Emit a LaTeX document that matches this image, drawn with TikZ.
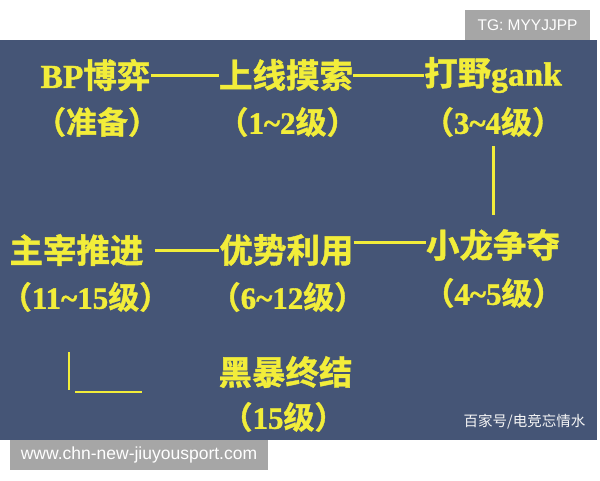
\documentclass[tikz,border=0pt]{standalone}
\usepackage{fontspec}
\newfontfamily\cjk{Noto Sans CJK SC}[BoldFont={* Bold}, BoldFeatures={FakeBold=1.2}]
\newfontfamily\lat{Liberation Serif}[BoldFeatures={FakeBold=1.2}]
\newfontfamily\sans{Liberation Sans}
\definecolor{bandblue}{RGB}{69,85,118}
\definecolor{ylw}{RGB}{242,237,58}
\definecolor{wmgrey}{RGB}{166,166,166}
\tikzset{
  lbl/.style={text=ylw, font=\cjk\bfseries\fontsize{33.5}{33.5}\selectfont, inner sep=0pt},
  sublbl/.style={text=ylw, font=\cjk\bfseries\fontsize{31}{31}\selectfont, inner sep=0pt},
  link/.style={draw=ylw, line width=3pt},
  tagbox/.style={fill=wmgrey, text=white, inner sep=0pt},
}
\begin{document}
\begin{tikzpicture}[x=1pt,y=-1pt]
\useasboundingbox (0,0) rectangle (600,480);
\fill[white] (0,0) rectangle (600,480);
\fill[bandblue] (0,40) rectangle (597,440);
\node[tagbox, font=\sans\fontsize{15.5}{15.5}\selectfont, minimum width=125pt, minimum height=30pt] (tg) at (527.5,25) {TG: MYYJJPP};
% row 1
\node[lbl] (bp) at (95.5,75) {{\lat BP}博弈};
\node[lbl] (sx) at (286,75) {上线摸索};
\node[lbl] (dy) at (493,75) {打野{\lat gank}};
\node[sublbl] (bp2) at (97,122) {（准备）};
\node[sublbl] (sx2) at (287.5,122) {（{\lat 1\textasciitilde 2}级）};
\node[sublbl] (dy2) at (493,122) {（{\lat 3\textasciitilde 4}级）};
% row 2
\node[lbl] (zz) at (76.5,250) {主宰推进};
\node[lbl] (ys) at (286.5,250) {优势利用};
\node[lbl] (xl) at (493,245) {小龙争夺};
\node[sublbl] (zz2) at (85.5,297) {（{\lat 11\textasciitilde 15}级）};
\node[sublbl] (ys2) at (287.5,297) {（{\lat 6\textasciitilde 12}级）};
\node[sublbl] (xl2) at (493.5,293) {（{\lat 4\textasciitilde 5}级）};
% row 3
\node[lbl] (hb) at (285.5,372) {黑暴终结};
\node[sublbl] (hb2) at (283.5,417) {（{\lat 15}级）};
% connectors
\draw[link] (bp.east) -- (sx.west);
\draw[link] (sx.east) -- (dy.west);
\draw[link] ([xshift=11pt]zz.east) -- (ys.west);
\draw[link] ([yshift=8pt]ys.east) -- ([yshift=3pt]xl.west);
\draw[link, shorten <=9pt, shorten >=14pt] (dy2.south) -- (xl.north);
\coordinate (k1) at (69,352);
\coordinate (k2) at (69,390);
\coordinate (k3) at (75,392);
\coordinate (k4) at (142,392);
\draw[link, line width=2.5pt] (k1) -- (k2);
\draw[link, line width=2.5pt] (k3) -- (k4);
% watermarks
\node[text=white!92!gray, font=\cjk\fontsize{14.5}{14.5}\selectfont, inner sep=0pt] (wm) at (524.5,422) {百家号/电竞忘情水};
\node[tagbox, font=\sans\fontsize{17.5}{17.5}\selectfont, minimum width=258pt, minimum height=30pt] (url) at (139,455) {www.chn-new-jiuyousport.com};
\end{tikzpicture}
\end{document}
